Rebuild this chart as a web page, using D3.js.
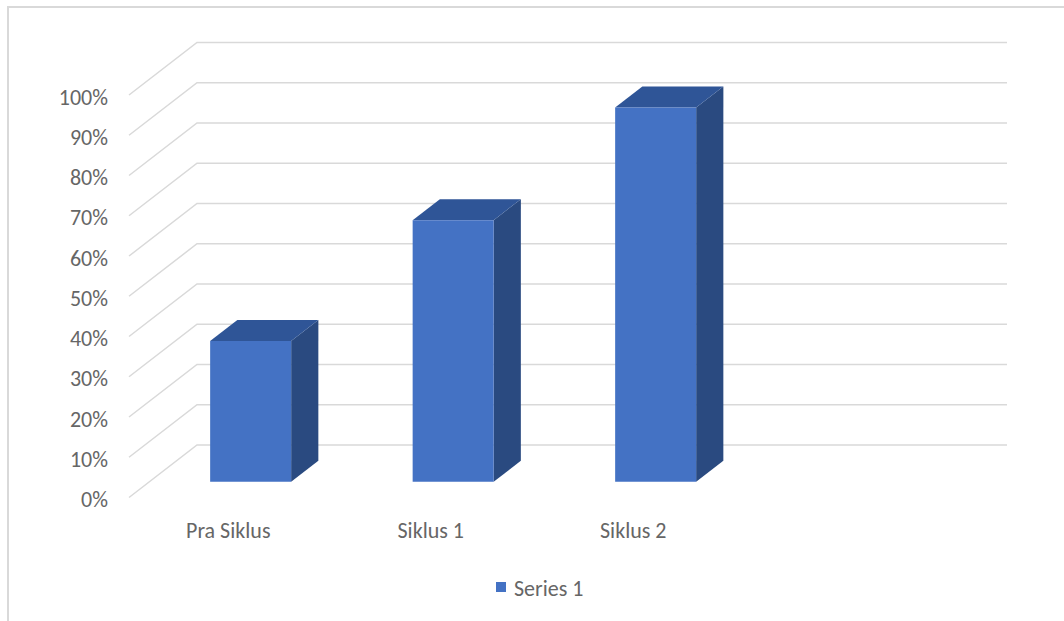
<!DOCTYPE html>
<html>
<head>
<meta charset="utf-8">
<script src="https://cdn.jsdelivr.net/npm/d3@7"></script>
<style>
  body { margin:0; background:#fff; }
  text { font-family: Carlito, Calibri, Lato, "Open Sans", sans-serif; fill:#666666; }
</style>
</head>
<body>
<div class="chart"></div>
<script>
// data
var categories = ["Pra Siklus", "Siklus 1", "Siklus 2", ""];
var values = [0.35, 0.65, 0.93, null];
var seriesName = "Series 1";
var yTicks = [0, 0.1, 0.2, 0.3, 0.4, 0.5, 0.6, 0.7, 0.8, 0.9, 1];

var options = {
  width:1064,
  height:621,
  frontColor:'#4472c4',
  topColor:'#2f5597',
  sideColor:'#2a4a80',
  gridColor:'#d9d9d9',
  depthX:68,
  depthY:52.5,
  barFrom:0.30,
  barTo:0.70,
  fontSize:'22px'
};

var svg = d3.select(".chart")
  .append("svg")
    .attr("width",options.width)
    .attr("height",options.height);

// chart border (top + left visible)
svg.append("path")
  .attr("d","M8,621 V7 H1064")
  .attr("fill","none")
  .attr("stroke",options.gridColor)
  .attr("stroke-width",2);

var x = d3.scaleBand().domain(categories).range([129,939]);
var y = d3.scaleLinear().domain([0,1]).range([497.5,95]);

// project a point at front-plane coords with depth d (0 front .. 1 back)
function px(xv, d){ return xv + d*options.depthX; }
function py(yv, d){ return yv - d*options.depthY; }

// gridlines: side wall diagonal + back wall
var grid = svg.append("g").attr("class","grid");
yTicks.forEach(function(t){
  grid.append("path")
    .attr("d","M"+px(129,0)+","+py(y(t),0)+" L"+px(129,1)+","+py(y(t),1)+" H"+px(939,1))
    .attr("fill","none")
    .attr("stroke",options.gridColor)
    .attr("stroke-width",1.5);
});

// y labels
svg.append("g").selectAll("text")
  .data(yTicks).enter()
  .append("text")
    .attr("x",108)
    .attr("y",function(d){ return y(d)+2; })
    .attr("dy","0.35em")
    .style("text-anchor","end")
    .style("font-size",options.fontSize)
    .text(d3.format(".0%"));

// bars
var bars = svg.append("g").selectAll("g")
  .data(categories.map(function(c,i){ return {cat:c, v:values[i]}; }).filter(function(d){ return d.v != null; }))
  .enter().append("g");

function barGeom(d){
  var bw = x.bandwidth()*0.4;
  var x0 = x(d.cat) + (x.bandwidth()-bw)/2;
  return {x0:x0, x1:x0+bw, y0:y(0), y1:y(d.v), a:options.barFrom, b:options.barTo};
}
function pt(xv,yv,d){ return px(xv,d)+","+py(yv,d); }

bars.append("polygon")
  .attr("points",function(d){ var g=barGeom(d);
    return [pt(g.x1,g.y0,g.a),pt(g.x1,g.y0,g.b),pt(g.x1,g.y1,g.b),pt(g.x1,g.y1,g.a)].join(" "); })
  .style("fill",options.sideColor);
bars.append("polygon")
  .attr("points",function(d){ var g=barGeom(d);
    return [pt(g.x0,g.y1,g.a),pt(g.x0,g.y1,g.b),pt(g.x1,g.y1,g.b),pt(g.x1,g.y1,g.a)].join(" "); })
  .style("fill",options.topColor);
bars.append("polygon")
  .attr("points",function(d){ var g=barGeom(d);
    return [pt(g.x0,g.y0,g.a),pt(g.x1,g.y0,g.a),pt(g.x1,g.y1,g.a),pt(g.x0,g.y1,g.a)].join(" "); })
  .style("fill",options.frontColor);

// category labels
svg.append("g").selectAll("text")
  .data(categories).enter()
  .append("text")
    .attr("x",function(d){ return x(d)+x.bandwidth()/2 - 2; })
    .attr("y",530)
    .attr("dy","0.35em")
    .style("text-anchor","middle")
    .style("font-size",options.fontSize)
    .text(function(d){ return d; });

// legend
svg.append("rect")
  .attr("x",496).attr("y",582)
  .attr("width",10).attr("height",10)
  .style("fill",options.frontColor);
svg.append("text")
  .attr("x",514).attr("y",588)
  .attr("dy","0.35em")
  .style("font-size",options.fontSize)
  .text(seriesName);
</script>
</body>
</html>
